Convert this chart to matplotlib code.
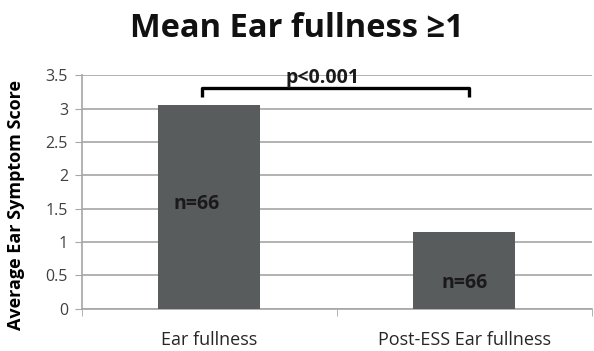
import matplotlib.pyplot as plt
from matplotlib.ticker import MultipleLocator, FixedLocator

categories = ["Ear fullness", "Post-ESS Ear fullness"]
scores = [3.05, 1.15]
n_labels = ["n=66", "n=66"]
p_text = "p<0.001"

plt.rcParams['font.family'] = ['Open Sans', 'DejaVu Sans']

fig = plt.figure(figsize=(5.94, 3.51), dpi=100)
ax = fig.add_axes([0.138, 0.12, 0.858, 0.666])

x = range(len(categories))
ax.bar(x, scores, width=0.4, color="#595c5c", zorder=3)

ax.set_xlim(-0.5, 1.5)
ax.set_ylim(0, 3.5)
ax.yaxis.set_major_locator(MultipleLocator(0.5))
ax.set_yticklabels([f"{v:g}" for v in ax.get_yticks()])
ax.grid(axis="y", color="#a6a6a6", linewidth=1.2, zorder=0)

ax.set_xticks(list(x))
ax.set_xticklabels(categories, fontsize=13)
ax.tick_params(axis="x", which="major", length=0, pad=16)
ax.xaxis.set_minor_locator(FixedLocator([-0.5, 0.5, 1.5]))
ax.tick_params(axis="x", which="minor", length=5, color="#a6a6a6")
ax.tick_params(axis="y", length=5, color="#a6a6a6", labelsize=11.5, labelcolor="#404040", pad=5)
ax.tick_params(axis="x", labelcolor="#262626")

for s in ["top", "right"]:
    ax.spines[s].set_visible(False)
for s in ["left", "bottom"]:
    ax.spines[s].set_color("#a6a6a6")
    ax.spines[s].set_linewidth(1.2)

ax.set_ylabel("Average Ear Symptom Score", fontsize=13, fontweight="bold")
ax.yaxis.set_label_coords(-0.112, 0.444)

# sample size labels inside the bars
label_pos = [(-0.05, 1.57), (1.0, 0.39)]
for (lx, ly), lab in zip(label_pos, n_labels):
    ax.text(lx, ly, lab, ha="center", va="center",
            fontsize=14, fontweight="bold", color="#1a1a1a", zorder=4)

# significance bracket
bx0, bx1, by_low, by_top = -0.03, 1.02, 3.17, 3.31
ax.plot([bx0, bx0, bx1, bx1], [by_low, by_top, by_top, by_low],
        color="black", linewidth=2.4, solid_capstyle="butt", zorder=5, clip_on=False)
ax.text((bx0 + bx1) / 2 - 0.05, by_top + 0.0, p_text, ha="center", va="bottom",
        fontsize=14, fontweight="bold", color="#1a1a1a", zorder=5)

fig.suptitle("Mean Ear fullness \u22651", x=0.5, y=0.965, fontsize=23.5, fontweight="bold",
             color="#111111")

fig.savefig("out.png", dpi=100)
